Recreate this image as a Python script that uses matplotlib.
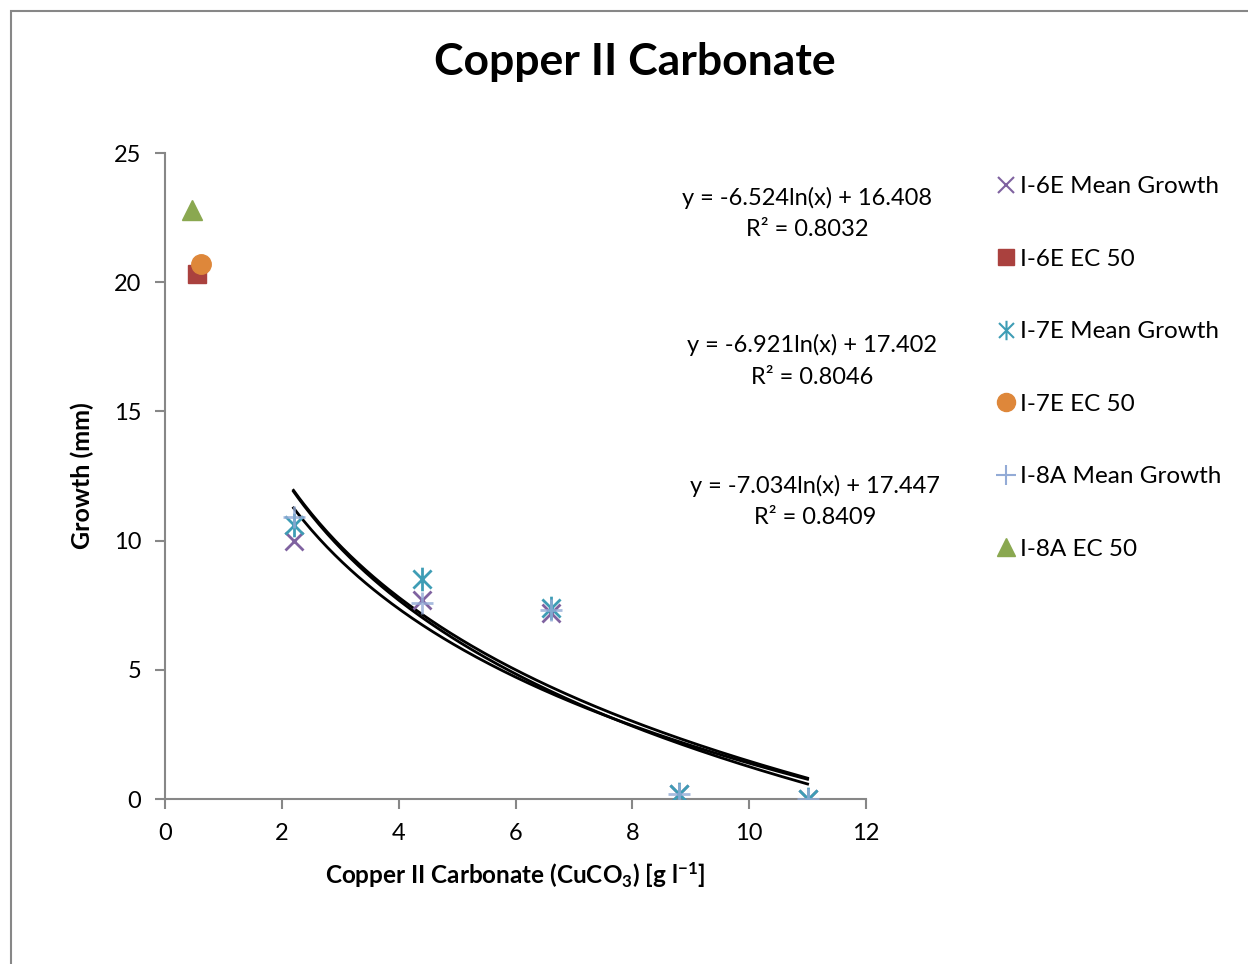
import numpy as np
import matplotlib.pyplot as plt
from matplotlib.path import Path
from matplotlib.patches import Rectangle
from matplotlib.lines import Line2D

plt.rcParams['font.family'] = ['Lato', 'DejaVu Sans']
plt.rcParams['mathtext.fontset'] = 'custom'
plt.rcParams['mathtext.rm'] = 'Lato:bold'
plt.rcParams['mathtext.default'] = 'rm'

conc = [2.2, 4.4, 6.6, 8.8, 11.0]
growth_6e = [10.0, 7.7, 7.2, 0.2, 0.0]
growth_7e = [10.6, 8.5, 7.4, 0.2, 0.0]
growth_8a = [10.9, 7.6, 7.3, 0.2, 0.0]

ec50_6e = (0.55, 20.3)
ec50_7e = (0.62, 20.7)
ec50_8a = (0.46, 22.8)

# log fits: y = a*ln(x) + b
fits = [(-6.524, 16.408, 0.8032), (-6.921, 17.402, 0.8046), (-7.034, 17.447, 0.8409)]

purple = '#7F62A0'
red = '#AA413E'
teal = '#3E9DB5'
orange = '#DE873A'
lblue = '#93ABD6'
green = '#8AA850'
grey = '#878787'

asterisk = Path([(-1, -1), (1, 1), (-1, 1), (1, -1), (0, -1.3), (0, 1.3)],
                [Path.MOVETO, Path.LINETO, Path.MOVETO, Path.LINETO, Path.MOVETO, Path.LINETO])

fig = plt.figure(figsize=(12.48, 9.64), dpi=100)
ax = fig.add_axes([165 / 1248, 1 - 799 / 964, 701 / 1248, 646 / 964])

# trend lines
xs = np.linspace(conc[0], conc[-1], 200)
for a, b, r2 in fits:
    ax.plot(xs, a * np.log(xs) + b, color='black', lw=2, zorder=2)

ax.plot(conc, growth_6e, ls='none', marker='x', ms=13, mew=2, color=purple, zorder=3)
ax.plot(conc, growth_7e, ls='none', marker=asterisk, ms=17, mew=2, color=teal, zorder=3)
ax.plot(conc, growth_8a, ls='none', marker='+', ms=16, mew=2, color=lblue, alpha=0.8, zorder=4)
ax.plot(*ec50_6e, ls='none', marker='s', ms=13, color=red, zorder=3)
ax.plot(*ec50_7e, ls='none', marker='o', ms=14, color=orange, zorder=4)
ax.plot(*ec50_8a, ls='none', marker='^', ms=14, color=green, zorder=3)

ax.set_xlim(0, 12)
ax.set_ylim(0, 25)
ax.set_xticks(range(0, 13, 2))
ax.set_yticks(range(0, 26, 5))
for s in ['top', 'right']:
    ax.spines[s].set_visible(False)
for s in ['left', 'bottom']:
    ax.spines[s].set_color(grey)
    ax.spines[s].set_linewidth(1.5)
ax.tick_params(colors=grey, labelcolor='black', labelsize=17, length=7, width=1.5, pad=10)
ax.set_xlabel('Copper II Carbonate (CuCO$_3$) [g l$^{-1}$]', fontsize=17.5, fontweight='bold', labelpad=12)
ax.set_ylabel('Growth (mm)', fontsize=18, fontweight='bold', labelpad=14)

fig.text(635 / 1248, 1 - 62 / 964, 'Copper II Carbonate', fontsize=32, fontweight='bold',
         ha='center', va='center')

eq_pos = [(807, 198), (812, 345), (815, 486)]
for (a, b, r2), (px, py) in zip(fits, eq_pos):
    fig.text(px / 1248, 1 - py / 964, f'y = {a:.3f}ln(x) + {b:.3f}', fontsize=17,
             ha='center', va='center')
    fig.text(px / 1248, 1 - (py + 32) / 964, f'R² = {r2:.4f}', fontsize=17,
             ha='center', va='center')

handles = [
    Line2D([], [], ls='none', marker='x', ms=11, mew=1.5, color=purple),
    Line2D([], [], ls='none', marker='s', ms=12, color=red),
    Line2D([], [], ls='none', marker=asterisk, ms=14, mew=1.5, color=teal),
    Line2D([], [], ls='none', marker='o', ms=13, color=orange),
    Line2D([], [], ls='none', marker='+', ms=15, mew=1.5, color=lblue),
    Line2D([], [], ls='none', marker='^', ms=13, color=green),
]
labels = ['I-6E Mean Growth', 'I-6E EC 50', 'I-7E Mean Growth', 'I-7E EC 50',
          'I-8A Mean Growth', 'I-8A EC 50']
fig.legend(handles, labels, loc='upper left', bbox_to_anchor=(997 / 1248, 1 - 176 / 964),
           frameon=False, fontsize=17.5, handlelength=0.75, handletextpad=0.2,
           labelspacing=2.12, borderpad=0, borderaxespad=0)

# chart area border
fig.patches.append(Rectangle((11 / 1248, -0.1), 1.2, 1 - 11 / 964 + 0.1, transform=fig.transFigure,
                             fill=False, edgecolor=grey, lw=1.5))

fig.savefig('out.png', dpi=100)
